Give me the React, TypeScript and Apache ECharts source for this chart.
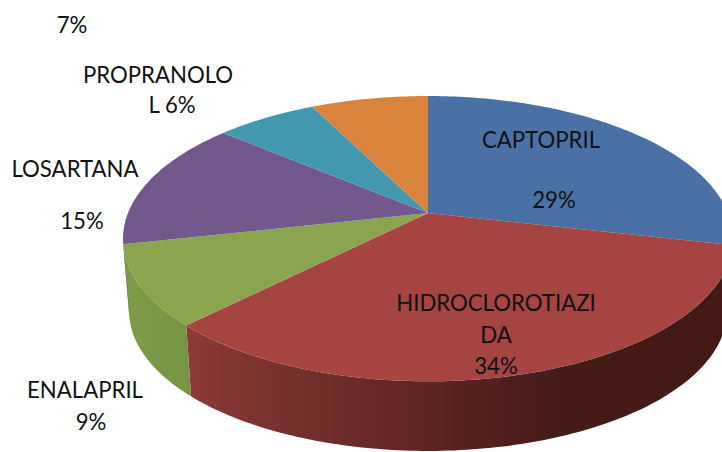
import React, { useEffect, useRef } from "react";
import * as echarts from "echarts";

const categories = ["CAPTOPRIL", "HIDROCLOROTIAZIDA", "ENALAPRIL", "LOSARTANA", "PROPRANOLOL", "OUTROS"];
const sliceValues = [28.6, 33.8, 9.1, 14.7, 6.4, 7.4];
const percentLabels = ["29%", "34%", "9%", "15%", "6%", "7%"];
const topColors = ["#4a71a5", "#a54441", "#8aa54d", "#73588e", "#4397ae", "#da833c"];

const FONT = "Lato";
const FONT_SIZE = 22.2;
const APEX = { x: 428, y: 213 };
const A = 300;
const B = 138;
const K = -0.18;
const LOWER = { x: 428, y: 286, s: 0.98 };
const WALL_FROM = 100;
const WALL_TO = 260;

function rim(deg: number) {
  const t = (deg * Math.PI) / 180;
  const u = Math.sin(t);
  const v = -Math.cos(t);
  const d = 1 + K * v;
  return [APEX.x + (A * u) / d, APEX.y + (B * v) / d];
}
function lower(p: number[]) {
  return [LOWER.x + LOWER.s * (p[0] - APEX.x), LOWER.y + LOWER.s * (p[1] - APEX.y)];
}
function arcPoints(a: number, b: number) {
  const pts: number[][] = [];
  const n = Math.max(2, Math.ceil(Math.abs(b - a)));
  for (let i = 0; i <= n; i++) pts.push(rim(a + ((b - a) * i) / n));
  return pts;
}
function span(idx: number) {
  const before = sliceValues.slice(0, idx).reduce((s, v) => s + v, 0);
  const total = sliceValues.reduce((s, v) => s + v, 0);
  return [(before / total) * 360, ((before + sliceValues[idx]) / total) * 360];
}

function wallFill(idx: number) {
  if (idx === 1) {
    return new echarts.graphic.LinearGradient(
      185, 0, 722, 0,
      [
        { offset: 0, color: "#8e3a38" },
        { offset: 0.2, color: "#75302e" },
        { offset: 0.45, color: "#5e2423" },
        { offset: 0.7, color: "#451b18" },
        { offset: 1, color: "#431a16" },
      ],
      true
    );
  }
  if (idx === 2) {
    return new echarts.graphic.LinearGradient(
      122, 0, 190, 0,
      [
        { offset: 0, color: "#7f9c48" },
        { offset: 1, color: "#769343" },
      ],
      true
    );
  }
  return "#2c4a70";
}

const renderWall = (params: any) => {
  const [a, b] = span(params.dataIndex);
  const from = Math.max(a, WALL_FROM);
  const to = Math.min(b, WALL_TO);
  if (to <= from) return { type: "group", children: [] };
  const top = arcPoints(from, to);
  const bottom = top.map(lower).reverse();
  return {
    type: "polygon",
    shape: { points: top.concat(bottom) },
    style: { fill: wallFill(params.dataIndex) },
    silent: true,
  };
};

const renderTop = (params: any) => {
  const [a, b] = span(params.dataIndex);
  return {
    type: "polygon",
    shape: { points: [[APEX.x, APEX.y], ...arcPoints(a, b)] },
    style: { fill: topColors[params.dataIndex] },
    silent: true,
  };
};

const labelLines: { text: string; x: number; y: number }[] = [
  { text: percentLabels[5], x: 72, y: 24.5 },
  { text: "PROPRANOLO", x: 158, y: 74.5 },
  { text: `L ${percentLabels[4]}`, x: 172, y: 104.5 },
  { text: categories[3], x: 75, y: 168.5 },
  { text: percentLabels[3], x: 82, y: 220.5 },
  { text: categories[0], x: 541, y: 139.5 },
  { text: percentLabels[0], x: 554, y: 199.5 },
  { text: "HIDROCLOROTIAZI", x: 496, y: 302.5 },
  { text: "DA", x: 496, y: 334.5 },
  { text: percentLabels[1], x: 496, y: 365.5 },
  { text: categories[2], x: 85, y: 389.5 },
  { text: percentLabels[2], x: 91, y: 421.5 },
];

export default function App() {
  const ref = useRef<HTMLDivElement>(null);
  useEffect(() => {
    const chart = echarts.init(ref.current!, null, { renderer: "svg" });
    const data = sliceValues.map((v, i) => ({ name: categories[i], value: v }));
    chart.setOption({
      animation: false,
      backgroundColor: "#ffffff",
      series: [
        { type: "custom", coordinateSystem: "none", renderItem: renderWall, data, silent: true, clip: false },
        { type: "custom", coordinateSystem: "none", renderItem: renderTop, data, silent: true, clip: false },
      ],
      graphic: labelLines.map((l) => ({
        type: "text",
        x: l.x,
        y: l.y,
        z: 10,
        silent: true,
        style: {
          text: l.text,
          fill: "#111111",
          font: `${FONT_SIZE}px ${FONT}`,
          textAlign: "center",
          textVerticalAlign: "middle",
        },
      })),
    });
    return () => chart.dispose();
  }, []);
  return <div ref={ref} style={{ position: "absolute", left: 0, top: 0, width: 722, height: 452 }} />;
}
